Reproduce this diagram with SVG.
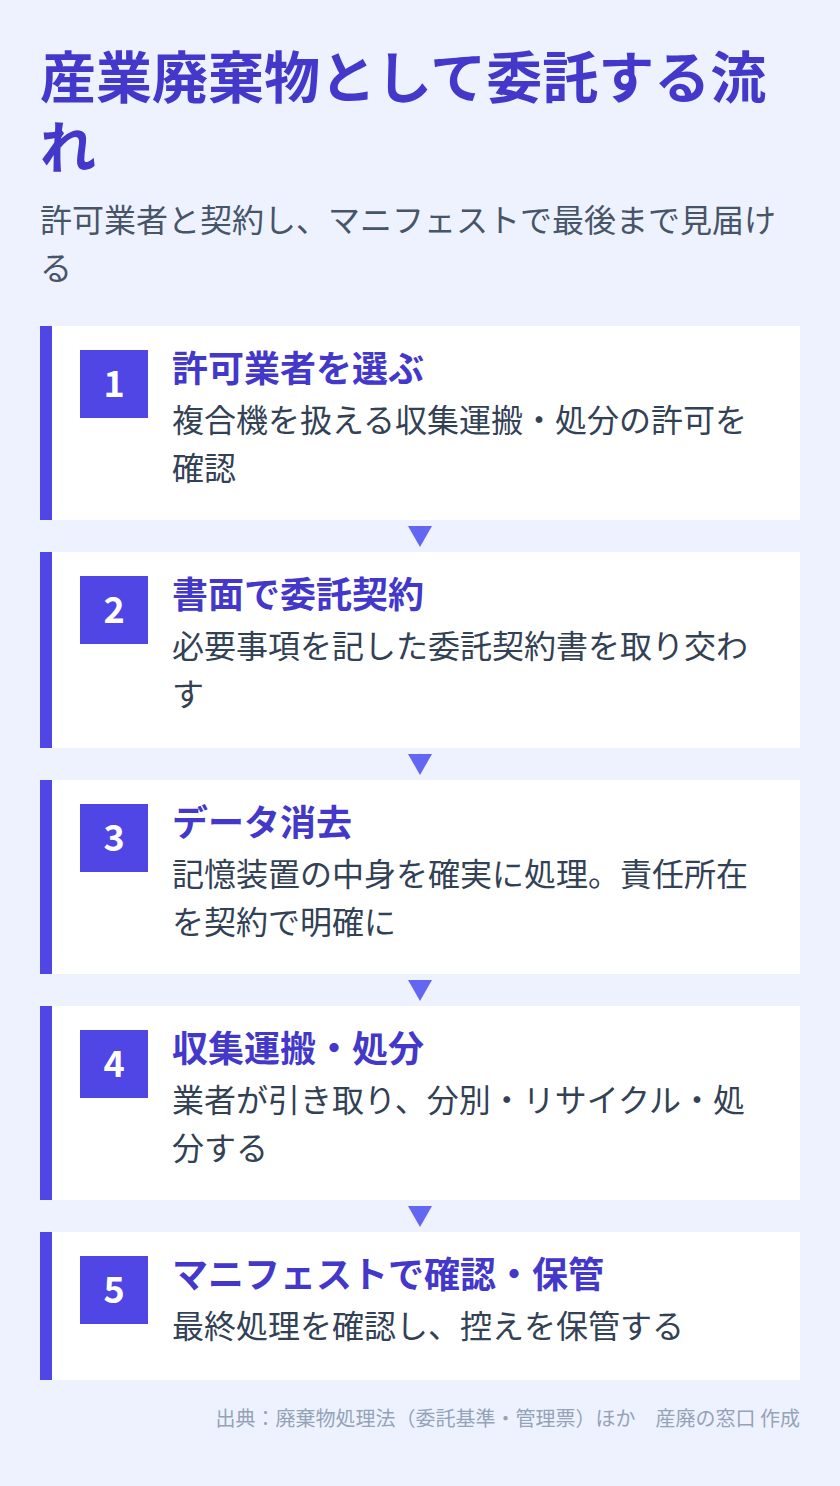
<svg xmlns="http://www.w3.org/2000/svg" width="840" height="1486" viewBox="0 0 840 1486">
<style>
text{font-family:"Noto Sans CJK JP","Noto Sans",sans-serif}
.title{font-size:56px;font-weight:700;fill:#4338CA}
.sub{font-size:32px;fill:#475569}
.card{fill:#FFFFFF}
.bar{fill:#4F46E5}
.num{fill:#4F46E5}
.numt{font-size:36px;font-weight:700;fill:#FFFFFF;text-anchor:middle}
.head{font-size:36px;font-weight:700;fill:#4338CA}
.desc{font-size:32px;fill:#334155}
.arrow{fill:#6366F1}
.foot{font-size:20px;fill:#94A3B8;text-anchor:end}
</style>
<rect width="840" height="1486" fill="#EEF2FF"/>
<g id="header">
<text class="title" x="40" y="98">産業廃棄物として委託する流</text>
<text class="title" x="40" y="168">れ</text>
<text class="sub" x="40" y="232">許可業者と契約し、マニフェストで最後まで見届け</text>
<text class="sub" x="40" y="280">る</text>
</g>
<g id="step1">
<rect class="card" x="40" y="326" width="760" height="194"/>
<rect class="bar" x="40" y="326" width="12" height="194"/>
<rect class="num" x="80" y="350" width="68" height="68"/>
<text class="numt" x="114" y="397">1</text>
<text class="head" x="172" y="382">許可業者を選ぶ</text>
<text class="desc" x="172" y="432">複合機を扱える収集運搬・処分の許可を</text>
<text class="desc" x="172" y="480">確認</text>
</g>
<g id="step2">
<rect class="card" x="40" y="552" width="760" height="196"/>
<rect class="bar" x="40" y="552" width="12" height="196"/>
<rect class="num" x="80" y="576" width="68" height="68"/>
<text class="numt" x="114" y="623">2</text>
<text class="head" x="172" y="608">書面で委託契約</text>
<text class="desc" x="172" y="658">必要事項を記した委託契約書を取り交わ</text>
<text class="desc" x="172" y="706">す</text>
</g>
<g id="step3">
<rect class="card" x="40" y="780" width="760" height="194"/>
<rect class="bar" x="40" y="780" width="12" height="194"/>
<rect class="num" x="80" y="804" width="68" height="68"/>
<text class="numt" x="114" y="851">3</text>
<text class="head" x="172" y="836">データ消去</text>
<text class="desc" x="172" y="886">記憶装置の中身を確実に処理。責任所在</text>
<text class="desc" x="172" y="934">を契約で明確に</text>
</g>
<g id="step4">
<rect class="card" x="40" y="1006" width="760" height="194"/>
<rect class="bar" x="40" y="1006" width="12" height="194"/>
<rect class="num" x="80" y="1030" width="68" height="68"/>
<text class="numt" x="114" y="1077">4</text>
<text class="head" x="172" y="1062">収集運搬・処分</text>
<text class="desc" x="172" y="1112">業者が引き取り、分別・リサイクル・処</text>
<text class="desc" x="172" y="1160">分する</text>
</g>
<g id="step5">
<rect class="card" x="40" y="1232" width="760" height="148"/>
<rect class="bar" x="40" y="1232" width="12" height="148"/>
<rect class="num" x="80" y="1256" width="68" height="68"/>
<text class="numt" x="114" y="1303">5</text>
<text class="head" x="172" y="1288">マニフェストで確認・保管</text>
<text class="desc" x="172" y="1338">最終処理を確認し、控えを保管する</text>
</g>
<g id="connectors">
<polygon class="arrow" points="408,526 432,526 420,547"/>
<polygon class="arrow" points="408,754 432,754 420,775"/>
<polygon class="arrow" points="408,980 432,980 420,1001"/>
<polygon class="arrow" points="408,1206 432,1206 420,1227"/>
</g>
<g id="footer">
<text class="foot" x="800" y="1426">出典：廃棄物処理法（委託基準・管理票）ほか　産廃の窓口 作成</text>
</g>
</svg>
